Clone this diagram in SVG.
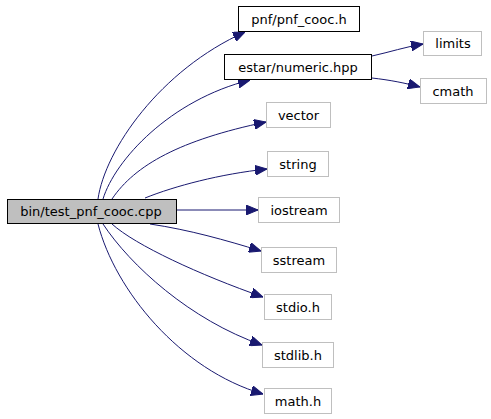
<svg xmlns="http://www.w3.org/2000/svg" width="491" height="419" viewBox="0 0 491 419">
<style>
.n rect{fill:#ffffff;stroke:#000000;stroke-width:1}
.n.sys rect{stroke:#bfbfbf}
.n.main rect{fill:#bfbfbf}
.n text{font-family:"DejaVu Sans",Verdana,sans-serif;font-size:13px;fill:#000000;text-anchor:middle}
.e path{fill:none;stroke:#191970;stroke-width:1;marker-end:url(#arr)}
</style>
<defs>
<marker id="arr" markerUnits="userSpaceOnUse" markerWidth="12" markerHeight="10" viewBox="0 0 12 10" refX="12" refY="5" orient="auto">
<path d="M0,0 L12,5 L0,10 z" fill="#191970" stroke="#191970"/>
</marker>
</defs>
<rect width="491" height="419" fill="#ffffff"/>
<g id="edges" class="e">
<path d="M98,199 C105,150 160,70 245,32"/>
<path d="M103,199 C115,160 170,100 250,80"/>
<path d="M112,199 C135,165 180,140 266,122"/>
<path d="M145,198 C175,186 220,174 267,169"/>
<path d="M177,210 L258,210"/>
<path d="M150,224 C190,230 225,240 261,251"/>
<path d="M112,224 C135,245 200,275 263,297"/>
<path d="M103,224 C130,265 190,320 262,345"/>
<path d="M98,224 C115,290 180,370 263,394"/>
<path d="M372,56 C390,52 405,47 423,44"/>
<path d="M372,78 C390,80 405,83 420,87"/>
</g>
<g id="node_main" class="n main"><rect x="7.5" y="199.5" width="169" height="24"/><text x="91" y="216">bin/test_pnf_cooc.cpp</text></g>
<g id="node_pnf_cooc" class="n"><rect x="238.5" y="6.5" width="121" height="25"/><text x="299" y="23.5">pnf/pnf_cooc.h</text></g>
<g id="node_numeric" class="n"><rect x="224.5" y="54.5" width="147" height="25"/><text x="298" y="71.5">estar/numeric.hpp</text></g>
<g id="node_limits" class="n sys"><rect x="423.5" y="31.5" width="58" height="24"/><text x="453" y="48">limits</text></g>
<g id="node_cmath" class="n sys"><rect x="420.5" y="78.5" width="66" height="25"/><text x="453" y="95.5">cmath</text></g>
<g id="node_vector" class="n sys"><rect x="266.5" y="102.5" width="64" height="25"/><text x="298.5" y="119.5">vector</text></g>
<g id="node_string" class="n sys"><rect x="267.5" y="151.5" width="61" height="25"/><text x="298" y="168.5">string</text></g>
<g id="node_iostream" class="n sys"><rect x="258.5" y="197.5" width="81" height="25"/><text x="299" y="214.5">iostream</text></g>
<g id="node_sstream" class="n sys"><rect x="261.5" y="247.5" width="75" height="25"/><text x="299" y="264.5">sstream</text></g>
<g id="node_stdio" class="n sys"><rect x="264.5" y="294.5" width="67" height="25"/><text x="298" y="311.5">stdio.h</text></g>
<g id="node_stdlib" class="n sys"><rect x="262.5" y="342.5" width="71" height="25"/><text x="298" y="359.5">stdlib.h</text></g>
<g id="node_math" class="n sys"><rect x="264.5" y="388.5" width="67" height="25"/><text x="298" y="405.5">math.h</text></g>
</svg>
